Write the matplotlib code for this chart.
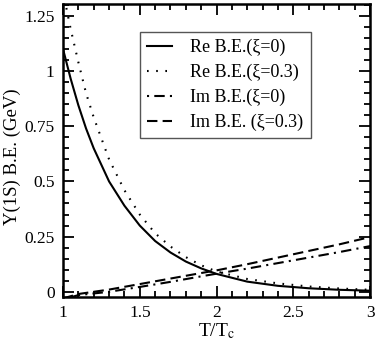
import numpy as np
import matplotlib
matplotlib.use("Agg")
import matplotlib.pyplot as plt
from matplotlib.ticker import MultipleLocator

plt.rcParams['font.family'] = ['Liberation Serif', 'DejaVu Serif']
plt.rcParams['mathtext.fontset'] = 'stix'

# binding energies
t_re = [1.0, 1.05, 1.1, 1.15, 1.2, 1.3, 1.4, 1.5, 1.6, 1.7, 1.8, 1.9,
        2.0, 2.2, 2.4, 2.6, 2.8, 3.0]
re_xi0 = [1.10, 0.965, 0.845, 0.74, 0.65, 0.50, 0.39, 0.30, 0.23, 0.178,
          0.137, 0.106, 0.081, 0.046, 0.027, 0.016, 0.009, 0.005]
re_xi03 = [1.36, 1.19, 1.04, 0.90, 0.79, 0.60, 0.46, 0.35, 0.265, 0.205,
           0.157, 0.12, 0.092, 0.058, 0.038, 0.024, 0.015, 0.009]

t_im = [1.0, 1.1, 1.3, 1.5, 1.7, 1.9, 2.0, 2.2, 2.4, 2.6, 2.8, 3.0]
im_xi0 = [-0.035, -0.015, 0.0, 0.022, 0.045, 0.07, 0.082, 0.105, 0.13,
          0.155, 0.18, 0.207]
im_xi03 = [-0.03, -0.01, 0.01, 0.035, 0.06, 0.085, 0.097, 0.125, 0.155,
           0.185, 0.215, 0.248]

labels = ["Re B.E.(ξ=0)", "Re B.E.(ξ=0.3)", "Im B.E.(ξ=0)", "Im B.E. (ξ=0.3)"]

fig = plt.figure(figsize=(3.75, 3.46), dpi=100)
ax = fig.add_axes([0.168, 0.142, 0.819, 0.846])

lw = 1.5
ax.plot(t_re, re_xi0, color='black', lw=lw, label=labels[0])
ax.plot(t_re, re_xi03, color='black', lw=lw, dashes=(0.8, 3.6), label=labels[1])
ax.plot(t_im, im_xi0, color='black', lw=lw, dashes=(1, 2.5, 5, 2.5), label=labels[2])
ax.plot(t_im, im_xi03, color='black', lw=lw, dashes=(5, 2.5), label=labels[3])

ax.set_xlim(1, 3)
ax.set_ylim(-0.023, 1.303)
ax.xaxis.set_minor_locator(MultipleLocator(0.1))
ax.yaxis.set_minor_locator(MultipleLocator(0.05))
ax.set_xticks([1, 1.5, 2, 2.5, 3])
ax.set_xticklabels(['1', '1.5', '2', '2.5', '3'])
ax.set_yticks([0, 0.25, 0.5, 0.75, 1, 1.25])
ax.set_yticklabels(['0', '0.25', '0.5', '0.75', '1', '1.25'])
ax.tick_params(which='both', direction='in', top=True, right=True,
               labelsize=12.5, width=1.3)
ax.tick_params(which='major', length=8, pad=6)
ax.tick_params(which='minor', length=4)
for s in ax.spines.values():
    s.set_linewidth(1.8)

ax.set_xlabel(r'T/T$_\mathrm{c}$', fontsize=14, labelpad=0)
ax.set_ylabel('Υ(1S) B.E. (GeV)', fontsize=13.5)
ax.yaxis.set_label_coords(-0.138, 0.48)

leg = ax.legend(loc='upper left', bbox_to_anchor=(0.25, 0.905), fontsize=13,
                handlelength=1.4, handletextpad=1.0, labelspacing=0.42,
                borderpad=0.4, borderaxespad=0, fancybox=False, framealpha=1,
                edgecolor='#555555')
leg.get_frame().set_linewidth(1.0)

fig.savefig('out.png', dpi=100)
